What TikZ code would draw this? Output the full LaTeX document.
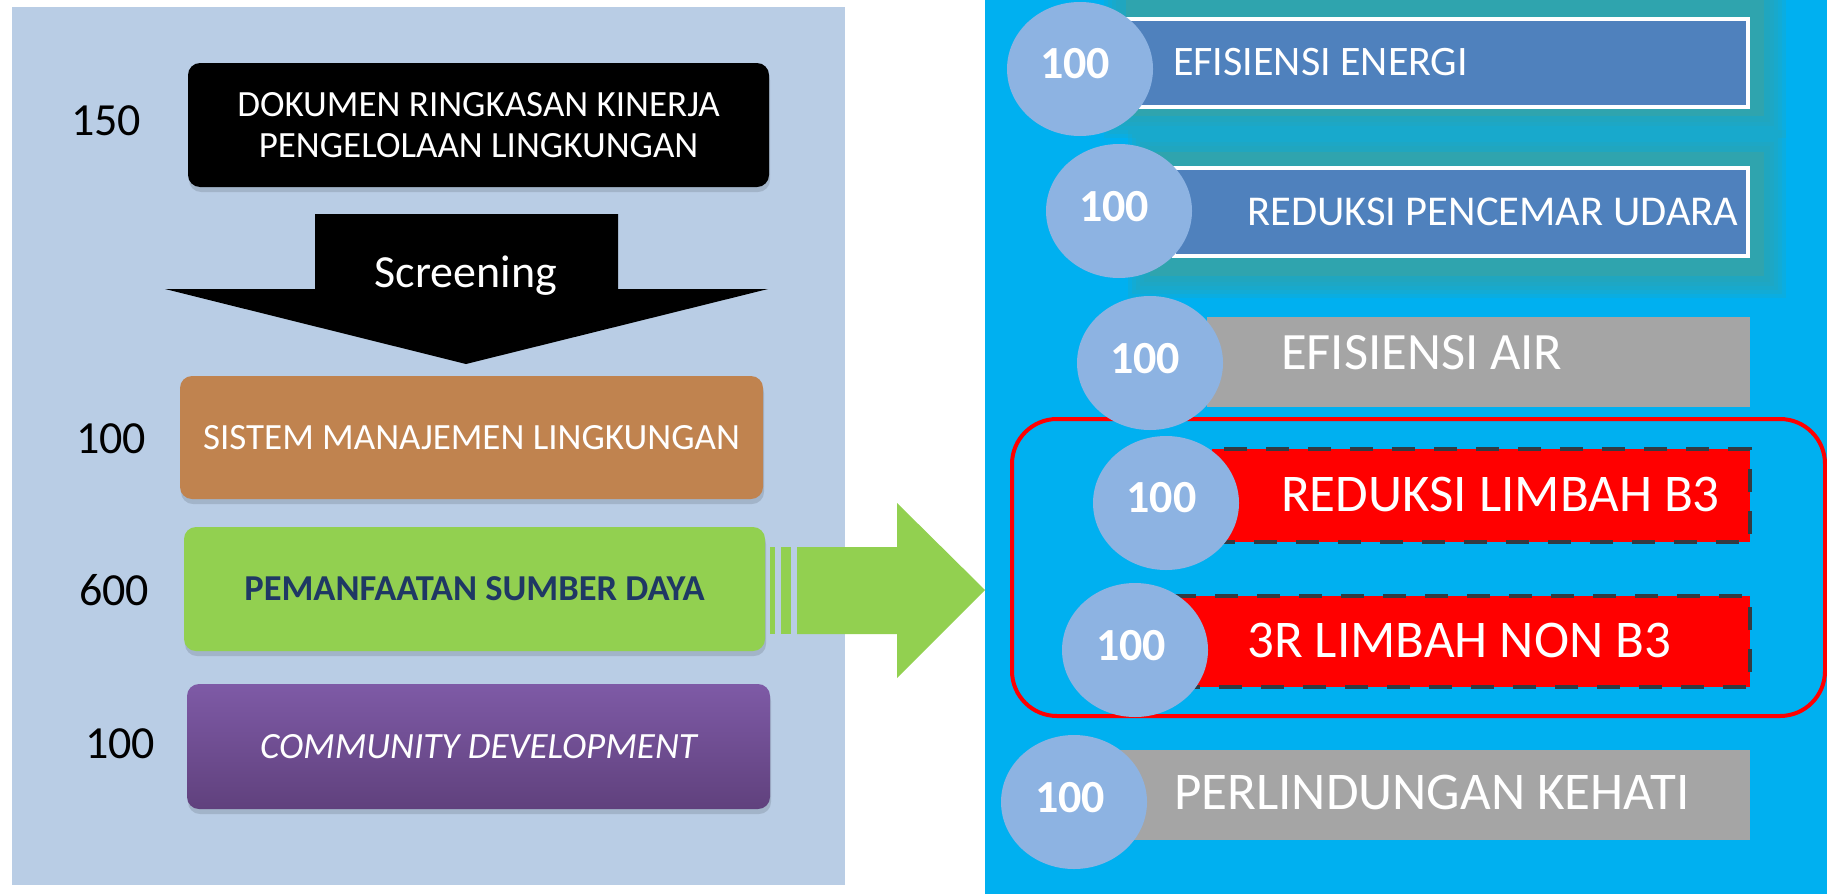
\documentclass[tikz,border=0pt]{standalone}
\usepackage{fontspec}
\setmainfont{Carlito}
\usetikzlibrary{shapes.geometric,shadows}
\definecolor{leftbg}{HTML}{B9CDE5}
\definecolor{rightbg}{HTML}{00B0F0}
\definecolor{glow}{HTML}{2FA4AE}
\definecolor{boxblue}{HTML}{4F81BD}
\definecolor{circ}{HTML}{8DB3E2}
\definecolor{boxgray}{HTML}{A5A5A5}
\definecolor{boxred}{HTML}{FF0000}
\definecolor{dashc}{HTML}{333B42}
\definecolor{brown}{HTML}{C0834F}
\definecolor{grn}{HTML}{92D050}
\definecolor{navy}{HTML}{1F3864}
\definecolor{purtop}{HTML}{7E5AA6}
\definecolor{purbot}{HTML}{60417D}
\newcommand{\fsz}[1]{\fontsize{#1}{#1}\selectfont}
\begin{document}
\begin{tikzpicture}[x=1pt,y=-1pt,
  lbox/.style={rectangle, rounded corners=12pt, inner sep=0pt, text=white,
    minimum width=581pt, minimum height=124pt, align=center,
    drop shadow={shadow xshift=1pt, shadow yshift=-5pt, opacity=0.12, fill=black}},
  num/.style={inner sep=0pt, anchor=base, font=\fsz{46}},
  rnum/.style={inner sep=0pt, anchor=base, font=\bfseries\fsz{46}, text=white},
  circle100/.style={ellipse, fill=circ, minimum width=146pt, minimum height=134pt, inner sep=0pt},
  rbox/.style={rectangle, inner sep=0pt},
  rlabel/.style={inner sep=0pt, anchor=base west, text=white},
  dashbox/.style={rbox, fill=boxred, draw=dashc, line width=3.5pt, dash pattern=on 23pt off 19pt}
]
\useasboundingbox (0,0) rectangle (1827,894);
% panels
\fill[leftbg] (12,7) rectangle (845,885);
\fill[rightbg] (985,0) rectangle (1827,894);

% ---------- left side ----------
\node[lbox, fill=black, font=\fontsize{37}{41}\selectfont] (doc) at (478.5,125)
  {DOKUMEN RINGKASAN KINERJA\\PENGELOLAAN LINGKUNGAN};
\node[num] (n150) at (106,135) {150};

\fill[black] (315,214) -- (618,214) -- (618,289) -- (768,289) -- (466,364)
  -- (165,289) -- (315,289) -- cycle;
\node[inner sep=0pt, anchor=base, text=white, font=\fsz{46}] (scr) at (466,287) {Screening};

\node[lbox, fill=brown, font=\fsz{37}, minimum width=583pt, minimum height=123pt] (sml) at (471.5,437.5)
  {SISTEM MANAJEMEN LINGKUNGAN};
\node[num] (n100a) at (111,453) {100};

\node[lbox, fill=grn, text=navy, font=\bfseries\fsz{36.5}] (psd) at (474.5,589)
  {PEMANFAATAN SUMBER DAYA};
\node[num] (n600) at (114,605) {600};

\node[lbox, top color=purtop, bottom color=purbot, font=\itshape\fsz{37}, minimum width=583pt, minimum height=125pt] (cd) at (478.5,746.5)
  {COMMUNITY DEVELOPMENT};
\node[num] (n100b) at (120,758) {100};

% green block arrow
\fill[grn] (770,547) rectangle (775,634);
\fill[grn] (781,547) rectangle (791,634);
\fill[grn] (797,547) -- (897,547) -- (897,503) -- (985,590) -- (897,678)
  -- (897,634) -- (797,634) -- cycle;

% ---------- right side ----------
% soft glows
\foreach \d in {22,18,14,10,6}{
  \fill[glow, opacity=0.22] (1126-\d,-10) rectangle (1764+\d,116+\d);
  \fill[glow, opacity=0.22] (1150-\d,152-\d) rectangle (1764+\d,276+\d);
}
\fill[glow] (1126,-10) rectangle (1764,116);
\fill[glow] (1150,152) rectangle (1764,276);

\node[rbox, fill=boxblue, draw=white, line width=4pt, minimum width=620pt, minimum height=88pt] (b1) at (1438,63) {};
\node[rbox, fill=boxblue, draw=white, line width=4pt, minimum width=574pt, minimum height=88pt] (b2) at (1461,212) {};
\node[rbox, fill=boxgray, minimum width=543pt, minimum height=90pt] (b3) at (1478.5,362) {};
\node[rectangle, draw=boxred, line width=4pt, rounded corners=45pt, minimum width=813pt, minimum height=297pt] (grp) at (1418.5,567.5) {};
\node[dashbox, minimum width=538pt, minimum height=93pt] (b4) at (1481,495.5) {};
\node[dashbox, minimum width=573pt, minimum height=91pt] (b5) at (1463.5,641.5) {};
\node[rbox, fill=boxgray, minimum width=635pt, minimum height=90pt] (b6) at (1432.5,795) {};

\node[circle100] (c1) at (1080,69) {};
\node[circle100] (c2) at (1119,211) {};
\node[circle100] (c3) at (1150,363) {};
\node[circle100] (c4) at (1166,503) {};
\node[circle100] (c5) at (1135,650) {};
\node[circle100] (c6) at (1074,802) {};

\node[rnum] (r1) at (1075,78) {100};
\node[rnum] (r2) at (1114,221) {100};
\node[rnum] (r3) at (1145,373) {100};
\node[rnum] (r4) at (1161.5,512) {100};
\node[rnum] (r5) at (1131,660) {100};
\node[rnum] (r6) at (1070,812) {100};

\node[rlabel, font=\fsz{42}] (t1) at (1173,75) {EFISIENSI ENERGI};
\node[rlabel, font=\fsz{42.5}] (t2) at (1247,225) {REDUKSI PENCEMAR UDARA};
\node[rlabel, font=\fsz{52.5}] (t3) at (1281,369) {EFISIENSI AIR};
\node[rlabel, font=\fsz{53}] (t4) at (1281,511) {REDUKSI LIMBAH B3};
\node[rlabel, font=\fsz{53}] (t5) at (1247,657) {3R LIMBAH NON B3};
\node[rlabel, font=\fsz{53}] (t6) at (1174,809) {PERLINDUNGAN KEHATI};
\end{tikzpicture}
\end{document}
